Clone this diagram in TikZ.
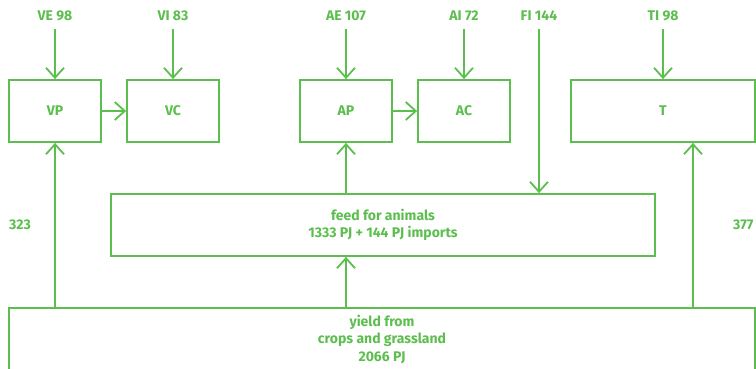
\documentclass[tikz,border=0pt]{standalone}
\usepackage{fontspec}
\setmainfont{Fira Sans}
\usepackage{tikz}
\usetikzlibrary{positioning,arrows.meta}
\definecolor{flowgreen}{RGB}{92,190,78}

\begin{document}
\begin{tikzpicture}[
  x=1pt, y=-1pt,
  every node/.style={text=flowgreen, font=\bfseries\fontsize{14}{17.5}\selectfont},
  box/.style={draw=flowgreen, line width=1.8pt, align=center,
    minimum width=92pt, minimum height=62pt, inner sep=0pt},
  lbl/.style={inner sep=2pt},
  arr/.style={-{Straight Barb[length=10pt,width=18pt]}, draw=flowgreen,
    line width=1.8pt, shorten <=6pt}
]
  \useasboundingbox (0,0) rectangle (756,368);

  % --- Row 1: processing and consumption ---
  \node[box]                           (vp)    at (55,111)  {VP};
  \node[box]                           (vc)    at (173,111) {VC};
  \node[box]                           (ap)    at (346,111) {AP};
  \node[box]                           (ac)    at (464,111) {AC};
  \node[box, minimum width=184pt]      (t)     at (663,111) {T};

  % --- Row 2 and 3: feed and yield ---
  \node[box, minimum width=544pt]      (feed)  at (383,225)
    {feed for animals\\1333 PJ + 144 PJ imports};
  \node[box, minimum width=746pt]      (yield) at (382,339)
    {yield from\\crops and grassland\\2066 PJ};

  % --- Inputs on top ---
  \node[lbl] (ve) at (55,16)  {VE 98};
  \node[lbl] (vi) at (173,16) {VI 83};
  \node[lbl] (ae) at (346,16) {AE 107};
  \node[lbl] (ai) at (464,16) {AI 72};
  \node[lbl] (fi) at (539,16) {FI 144};
  \node[lbl] (ti) at (663,16) {TI 98};

  % --- Side values ---
  \node[lbl]              (vval) at (20,225)  {323};
  \node[lbl, anchor=west] (tval) at (731,225) {377};

  % --- Arrows: inputs ---
  \draw[arr] (ve) -- (vp);
  \draw[arr] (vi) -- (vc);
  \draw[arr] (ae) -- (ap);
  \draw[arr] (ai) -- (ac);
  \draw[arr] (ti) -- (ti |- t.north);
  \draw[arr] (fi) -- (fi |- feed.north);

  % --- Arrows: processing to consumption ---
  \draw[arr, shorten <=0pt] (vp) -- (vc);
  \draw[arr, shorten <=0pt] (ap) -- (ac);

  % --- Arrows: from yield upwards ---
  \draw[arr, shorten <=0pt] (yield.north -| vp) -- (vp.south);
  \draw[arr, shorten <=0pt] (yield.north -| ap) -- (feed.south -| ap);
  \draw[arr, shorten <=0pt] (feed.north -| ap) -- (ap.south);
  \draw[arr, shorten <=0pt] (yield.north -| 693,0) -- (693,0 |- t.south);
\end{tikzpicture}
\end{document}
